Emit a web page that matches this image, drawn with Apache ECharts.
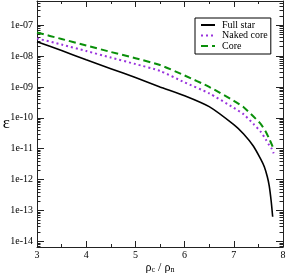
<!DOCTYPE html>
<html>
<head>
<meta charset="utf-8">
<script src="https://cdn.jsdelivr.net/npm/echarts@6/dist/echarts.min.js"></script>
<style>html,body{margin:0;padding:0;background:#fff;}#c{width:287px;height:273px;}</style>
</head>
<body>
<div id="c"></div>
<script>
// ---- data (epsilon values vs rho_c / rho_n) ----
const fullStarX   = [3.0, 3.5, 4.0, 4.5, 5.0, 5.5, 6.0, 6.5, 7.0, 7.2, 7.4, 7.55, 7.62, 7.68, 7.72, 7.76, 7.79];
const fullStarEps = [2.9e-8, 1.5e-8, 7.6e-9, 3.9e-9, 2.0e-9, 1.0e-9, 5.2e-10, 2.3e-10, 6.0e-11, 3.0e-11, 1.2e-11, 4.5e-12, 2.6e-12, 1.26e-12, 6.3e-13, 2.0e-13, 6.3e-14];
const nakedCoreX   = [3.0, 3.5, 4.0, 4.5, 5.0, 5.5, 6.0, 6.5, 7.0, 7.2, 7.4, 7.55, 7.65, 7.72, 7.77, 7.81];
const nakedCoreEps = [3.7e-8, 2.35e-8, 1.45e-8, 8.9e-9, 5.5e-9, 3.3e-9, 1.4e-9, 6.2e-10, 2.1e-10, 1.3e-10, 6.3e-11, 3.5e-11, 2.0e-11, 1.3e-11, 1.0e-11, 7.1e-12];
const coreX   = [3.0, 3.5, 4.0, 4.5, 5.0, 5.5, 6.0, 6.5, 7.0, 7.2, 7.4, 7.55, 7.65, 7.72, 7.79];
const coreEps = [5.75e-8, 3.55e-8, 2.2e-8, 1.35e-8, 8.5e-9, 5.1e-9, 2.35e-9, 1.0e-9, 3.55e-10, 2.2e-10, 1.1e-10, 6.3e-11, 3.55e-11, 2.1e-11, 1.17e-11];
const seriesNames = ['Full star', 'Naked core', 'Core'];
const yDecades = [-14, -13, -12, -11, -10, -9, -8, -7];   // tick labels 1e-14 ... 1e-07
const xTicks = [3, 4, 5, 6, 7, 8];

// log10 scale on a value axis
const yMinExp = -14.18, yMaxExp = -6.22;
const lg = v => Math.log10(v);
const pairs = (xs, ys) => xs.map((x, i) => [x, lg(ys[i])]);
const minorVals = [];
for (let n = -15; n <= -6; n++) for (let k = 2; k <= 9; k++) {
  const v = Math.log10(k) + n;
  if (v > yMinExp && v < yMaxExp) minorVals.push(v);
}
const fmtExp = v => { const n = Math.round(v); const a = Math.abs(n); return '1e' + (n < 0 ? '-' : '+') + (a < 10 ? '0' : '') + a; };

const font = 'Liberation Serif';
const lineCol = '#222';
function xAx(pos, labels) {
  return {
    type: 'value', position: pos, min: 3, max: 8, interval: 1,
    axisLine: { show: true, onZero: false, lineStyle: { color: lineCol, width: 1 } },
    axisTick: { show: true, inside: true, length: 6, lineStyle: { color: lineCol } },
    minorTick: { show: true, splitNumber: 2, length: 3, lineStyle: { color: lineCol } },
    axisLabel: { show: labels, color: '#000', fontFamily: font, fontSize: 10, margin: 3 },
    splitLine: { show: false }, minorSplitLine: { show: false },
    name: labels ? '{a|ρ}{s|c}{a| / ρ}{s|n}' : '',
    nameLocation: 'middle', nameGap: 14, nameMoveOverlap: false,
    nameTextStyle: { rich: { a: { fontFamily: font, fontSize: 12, color: '#000' }, s: { fontFamily: font, fontSize: 8, color: '#000', verticalAlign: 'bottom', padding: [5, 0, 0, 0] } } }
  };
}
function yAx(pos, major, labels) {
  const vals = major ? yDecades : minorVals;
  return {
    type: 'value', position: pos, min: yMinExp, max: yMaxExp,
    axisLine: { show: major, onZero: false, lineStyle: { color: lineCol, width: 1 } },
    axisTick: { show: true, inside: true, length: major ? 7 : 3.5, customValues: vals, lineStyle: { color: lineCol } },
    axisLabel: { show: labels, customValues: yDecades, formatter: fmtExp, color: '#000', fontFamily: font, fontSize: 10, margin: 4 },
    splitLine: { show: false },
    name: labels ? 'ε' : '', nameLocation: 'middle', nameGap: 27, nameRotate: 0, nameMoveOverlap: false,
    nameTextStyle: { fontFamily: font, fontSize: 17, color: '#000', padding: [6, 0, 0, 0] }
  };
}

const chart = echarts.init(document.getElementById('c'), null, { renderer: 'canvas' });
chart.setOption({
  animation: false,
  backgroundColor: '#fff',
  grid: { left: 37, right: 4, top: 1, bottom: 26, containLabel: false, outerBoundsMode: 'none' },
  xAxis: [xAx('bottom', true), xAx('top', false)],
  yAxis: [yAx('left', true, true), yAx('left', false, false), yAx('right', true, false), yAx('right', false, false)],
  legend: {
    show: true, orient: 'vertical', left: 195, top: 18,
    data: seriesNames,
    borderColor: '#000', borderWidth: 1, padding: [2, 3, 3, 5],
    itemWidth: 14, itemHeight: 10, itemGap: 0.5,
    itemStyle: { opacity: 0, borderWidth: 0 },
    textStyle: { fontFamily: font, fontSize: 10, color: '#000', lineHeight: 10, padding: [0, 0, 0, 2] },
    backgroundColor: '#fff'
  },
  series: [
    { name: seriesNames[0], type: 'line', data: pairs(fullStarX, fullStarEps), showSymbol: false, symbol: 'none', smooth: 0.2,
      color: '#000', lineStyle: { color: '#000', width: 1.6 } },
    { name: seriesNames[1], type: 'line', data: pairs(nakedCoreX, nakedCoreEps), showSymbol: false, symbol: 'none', smooth: 0.2,
      color: '#9933dd', lineStyle: { color: '#9933dd', width: 2, type: [2, 3] } },
    { name: seriesNames[2], type: 'line', data: pairs(coreX, coreEps), showSymbol: false, symbol: 'none', smooth: 0.2,
      color: '#0a8f0a', lineStyle: { color: '#0a8f0a', width: 2, type: [7, 4] } }
  ]
});
</script>
</body>
</html>
